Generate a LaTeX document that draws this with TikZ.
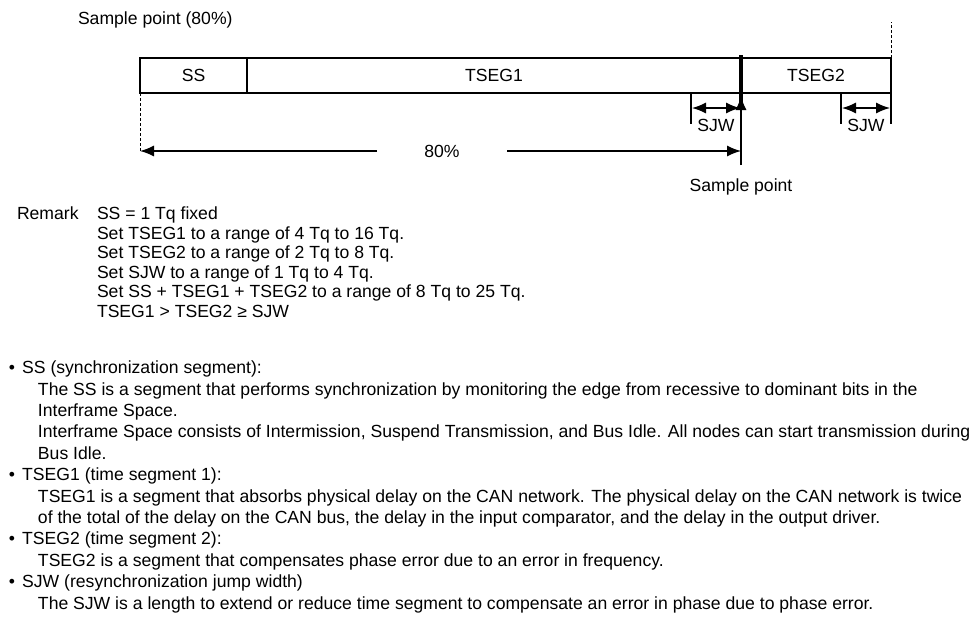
\documentclass[tikz,border=0pt]{standalone}
\usepackage{fontspec}
\setmainfont{Liberation Sans}
\usetikzlibrary{positioning}
\usetikzlibrary{arrows.meta}

\begin{document}
\begin{tikzpicture}[
        x = 1pt, y = -1pt, % one unit = one pixel of the sheet
        > = {Latex[length=14pt,width=11pt]}, % arrow head style
        line width = 1.3pt, % line style
        txt/.style = {font=\fontsize{17.6}{19.5}\selectfont, inner sep=0pt, outer sep=0pt},
        seg/.style = {txt, draw, minimum height=35, anchor=west},
        tick/.style = {line width=1.3pt},
        guide/.style = {densely dashed, line width=0.7pt}
        ]
  \useasboundingbox (0,0) rectangle (972,633);

  % the bit
  \node[seg, minimum width=107] (ss) at (140,75.5) {SS};
  \node[seg, minimum width=494, right=0pt of ss] (tseg1) {TSEG1};
  \node[seg, minimum width=150, right=0pt of tseg1] (tseg2) {TSEG2};

  \node[txt, anchor=west] (title) at (78,20) {Sample point (80\%)};

  % sample point
  \coordinate (sptop) at (741,55);
  \coordinate (spend) at (741,104);
  \coordinate (sptip) at (741,96);
  \coordinate (spbot) at (741,165);
  \draw[line width=4pt] (sptop) -- (spend);
  \draw[->] (spbot) -- (sptip);
  \node[txt, below=14pt of spbot] (splabel) {Sample point};

  % SJW before the sample point
  \coordinate (j1top) at (691,93);
  \coordinate (j1bot) at (691,124);
  \coordinate (j1l) at (692,108);
  \coordinate (j1r) at (740,108);
  \draw[tick] (j1top) -- (j1bot);
  \draw[<->] (j1l) -- (j1r);
  \node[txt] (sjw1) at (716,125) {SJW};

  % SJW at the end of TSEG2
  \coordinate (j2top) at (841,93);
  \coordinate (j2bot) at (841,124);
  \coordinate (j2end) at (891,124);
  \coordinate (j2l) at (842,108);
  \coordinate (j2r) at (890,108);
  \draw[tick] (j2top) -- (j2bot);
  \draw[tick] (tseg2.south east) -- (j2end);
  \draw[<->] (j2l) -- (j2r);
  \node[txt] (sjw2) at (866,125) {SJW};

  % dashed guides
  \coordinate (guider) at (891,22);
  \coordinate (guidel) at (140,152);
  \draw[guide] (tseg2.north east) -- (guider);
  \draw[guide] (ss.south west) -- (guidel);

  % 80 % span
  \node[txt, minimum width=130] (pct) at (442,151) {80\%};
  \draw[->] (pct.west) -- (guidel |- pct);
  \draw[->] (pct.east) -- (spbot |- pct);

  % remarks (base = last line)
  \node[txt, anchor=base west] (remark) at (17,219.5) {Remark};
  \node[txt, anchor=base west, align=left] (rules) at (97,317) {SS = 1 Tq fixed\\
    Set TSEG1 to a range of 4 Tq to 16 Tq.\\
    Set TSEG2 to a range of 2 Tq to 8 Tq.\\
    Set SJW to a range of 1 Tq to 4 Tq.\\
    Set SS + TSEG1 + TSEG2 to a range of 8 Tq to 25 Tq.\\
    TSEG1 > TSEG2 ≥ SJW};

  % notes (base = last line)
  \node[txt, anchor=base west, align=left, font=\fontsize{17.6}{21.4}\selectfont] (notes) at (9,609) {%
    \textbullet\hspace{7pt}SS (synchronization segment):\\
    \hspace*{29pt}The SS is a segment that performs synchronization by monitoring the edge from recessive to dominant bits in the\\
    \hspace*{29pt}Interframe Space.\\
    \hspace*{29pt}Interframe Space consists of Intermission, Suspend Transmission, and Bus Idle. All nodes can start transmission during\\
    \hspace*{29pt}Bus Idle.\\
    \textbullet\hspace{7pt}TSEG1 (time segment 1):\\
    \hspace*{29pt}TSEG1 is a segment that absorbs physical delay on the CAN network. The physical delay on the CAN network is twice\\
    \hspace*{29pt}of the total of the delay on the CAN bus, the delay in the input comparator, and the delay in the output driver.\\
    \textbullet\hspace{7pt}TSEG2 (time segment 2):\\
    \hspace*{29pt}TSEG2 is a segment that compensates phase error due to an error in frequency.\\
    \textbullet\hspace{7pt}SJW (resynchronization jump width)\\
    \hspace*{29pt}The SJW is a length to extend or reduce time segment to compensate an error in phase due to phase error.};

\end{tikzpicture}
\end{document}
